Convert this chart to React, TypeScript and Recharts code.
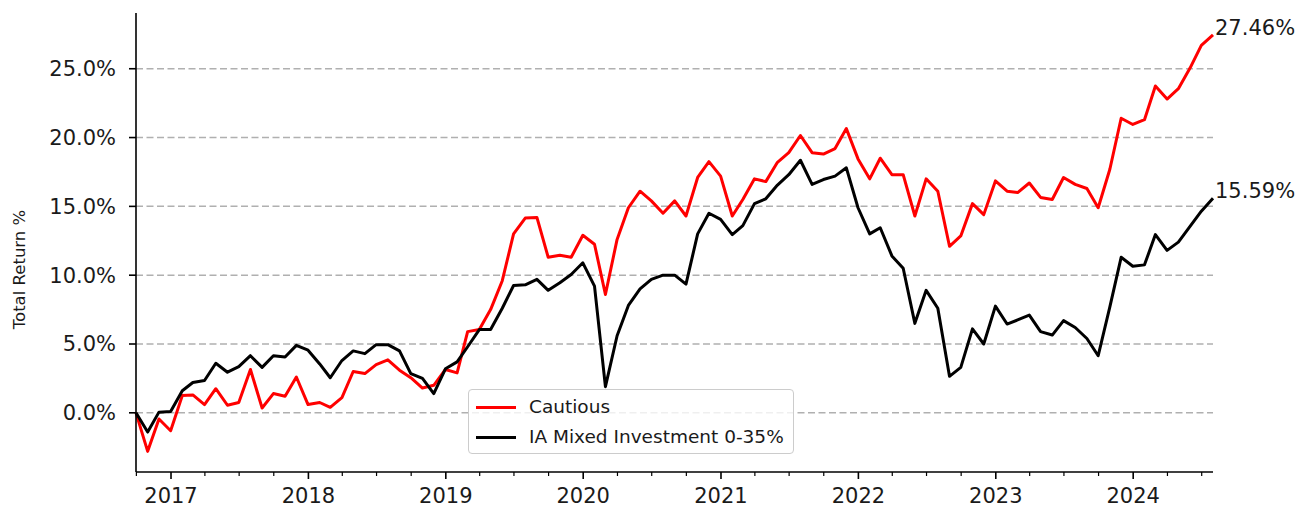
import React from "react";
import { CartesianGrid, Line, LineChart, XAxis, YAxis } from "recharts";

// month-end points, first one is Sep 2016
const firstMonth = { year: 2016, month: 9 };
const seriesNames = ["Cautious", "IA Mixed Investment 0-35%"];
const seriesColors = ["#ff0000", "#000000"];

const cautious = [
  0, -2.8, -0.45, -1.3, 1.25, 1.3, 0.6, 1.75, 0.55, 0.75, 3.15, 0.35, 1.4, 1.2, 2.6, 0.6,
  0.75, 0.4, 1.1, 3.0, 2.85, 3.5, 3.85, 3.1, 2.55, 1.8, 2.0, 3.15, 2.9, 5.9, 6.05, 7.5,
  9.6, 13.0, 14.15, 14.2, 11.3, 11.45, 11.3, 12.9, 12.25, 8.6, 12.6, 14.9, 16.1, 15.4, 14.5, 15.4,
  14.3, 17.1, 18.25, 17.2, 14.3, 15.5, 17.0, 16.8, 18.2, 18.9, 20.15, 18.9, 18.8, 19.2, 20.65, 18.45,
  17.0, 18.5, 17.3, 17.3, 14.3, 17.0, 16.1, 12.1, 12.85, 15.2, 14.4, 16.85, 16.1, 16.0, 16.7, 15.65,
  15.5, 17.1, 16.6, 16.3, 14.9, 17.7, 21.4, 20.95, 21.3, 23.75, 22.8, 23.55, 25.05, 26.7, 27.46,
];

const sector = [
  0, -1.4, 0.05, 0.1, 1.6, 2.2, 2.35, 3.6, 2.95, 3.35, 4.15, 3.3, 4.15, 4.05, 4.9, 4.55,
  3.55, 2.55, 3.8, 4.5, 4.3, 4.95, 4.95, 4.5, 2.85, 2.5, 1.4, 3.2, 3.7, 4.8, 6.05, 6.05,
  7.6, 9.25, 9.3, 9.7, 8.9, 9.45, 10.05, 10.9, 9.2, 1.9, 5.6, 7.8, 9.0, 9.7, 10.0, 10.0,
  9.35, 13.0, 14.5, 14.05, 12.95, 13.6, 15.2, 15.55, 16.55, 17.3, 18.35, 16.6, 16.95, 17.2, 17.8, 14.9,
  13.0, 13.45, 11.4, 10.5, 6.5, 8.9, 7.6, 2.65, 3.3, 6.1, 5.0, 7.75, 6.45, 6.75, 7.1, 5.9,
  5.65, 6.7, 6.2, 5.4, 4.15, 7.7, 11.3, 10.65, 10.75, 12.95, 11.8, 12.4, 13.55, 14.65, 15.59,
];

const yTicks = [0, 5, 10, 15, 20, 25];
const years = [2017, 2018, 2019, 2020, 2021, 2022, 2023, 2024];

const rows = cautious.map((v, i) => ({
  t: Date.UTC(firstMonth.year, firstMonth.month + i, 0),
  cautious: v,
  sector: sector[i],
}));

// quarterly ticks (Oct 2016 .. Jul 2024), labels only on January
const quarterTicks: number[] = [];
for (let k = 0; k < years.length * 4; k++) quarterTicks.push(Date.UTC(2016, 9 + 3 * k, 1));

const FONT = '"DejaVu Sans", sans-serif';
const TEXT = "#1a1a1a";
const last = cautious.length - 1;

function XTick(props: any) {
  const { x, y, payload } = props;
  const d = new Date(payload.value);
  const major = d.getUTCMonth() === 0;
  return (
    <g>
      <line x1={x} x2={x} y1={y} y2={y + (major ? 7 : 4)} stroke="#000" strokeWidth={major ? 1.6 : 1.2} />
      {major && (
        <text x={x} y={y + 31} textAnchor="middle" fontSize={21} fill={TEXT} fontFamily={FONT}>
          {d.getUTCFullYear()}
        </text>
      )}
    </g>
  );
}

const endLabel = (props: any) => {
  const { x, y, index, value } = props;
  if (index !== last) return null;
  return (
    <text x={x + 2} y={y} fontSize={21} fill={TEXT} fontFamily={FONT}>
      {Number(value).toFixed(2)}%
    </text>
  );
};

const yLabel = (props: any) => {
  const vb = props.viewBox;
  const cx = 20;
  const cy = vb.y + vb.height / 2 + 27;
  return (
    <text x={cx} y={cy} transform={`rotate(-90 ${cx} ${cy})`} textAnchor="middle" dominantBaseline="middle"
      fontSize={16.5} fill={TEXT} fontFamily={FONT}>
      Total Return %
    </text>
  );
};

export default function App() {
  return (
    <div style={{ position: "absolute", left: 0, top: 0, width: 1302, height: 510, fontFamily: FONT, background: "#fff" }}>
      <LineChart width={1302} height={510} data={rows} margin={{ top: 13, right: 89, bottom: 0, left: 0 }}>
        <CartesianGrid vertical={false} syncWithTicks stroke="#b0b0b0" strokeDasharray="7 3.5" strokeWidth={1.5} />
        <XAxis
          dataKey="t"
          type="number"
          scale="linear"
          domain={["dataMin", "dataMax"]}
          ticks={quarterTicks}
          interval={0}
          height={38}
          tickSize={0}
          tickMargin={0}
          tick={<XTick />}
          axisLine={{ stroke: "#000", strokeWidth: 1.6 }}
          tickLine={false}
        />
        <YAxis
          width={136}
          domain={[-4.3, 29.05]}
          ticks={yTicks}
          tickFormatter={(v: number) => `${v.toFixed(1)}%`}
          tickSize={7}
          tickMargin={13}
          tick={{ fontSize: 21, fill: TEXT, fontFamily: FONT }}
          tickLine={{ stroke: "#000", strokeWidth: 1.6 }}
          axisLine={{ stroke: "#000", strokeWidth: 1.6 }}
          label={yLabel}
        />
        <Line dataKey="cautious" name={seriesNames[0]} stroke={seriesColors[0]} strokeWidth={3}
          strokeLinejoin="round" dot={false} activeDot={false} isAnimationActive={false} label={endLabel} />
        <Line dataKey="sector" name={seriesNames[1]} stroke={seriesColors[1]} strokeWidth={3}
          strokeLinejoin="round" dot={false} activeDot={false} isAnimationActive={false} label={endLabel} />
      </LineChart>
      <div
        style={{
          position: "absolute", left: 468, top: 389, width: 326, height: 65, boxSizing: "border-box",
          border: "1.5px solid #cccccc", borderRadius: 4, background: "rgba(255,255,255,0.8)",
          fontSize: 18.5, color: TEXT,
        }}
      >
        {seriesNames.map((n, i) => (
          <div key={n} style={{ position: "absolute", left: 7, top: 7 + i * 30, height: 20, display: "flex", alignItems: "center" }}>
            <span style={{ display: "inline-block", width: 40, height: 3, background: seriesColors[i] }} />
            <span style={{ marginLeft: 13, lineHeight: "20px", whiteSpace: "nowrap" }}>{n}</span>
          </div>
        ))}
      </div>
    </div>
  );
}
